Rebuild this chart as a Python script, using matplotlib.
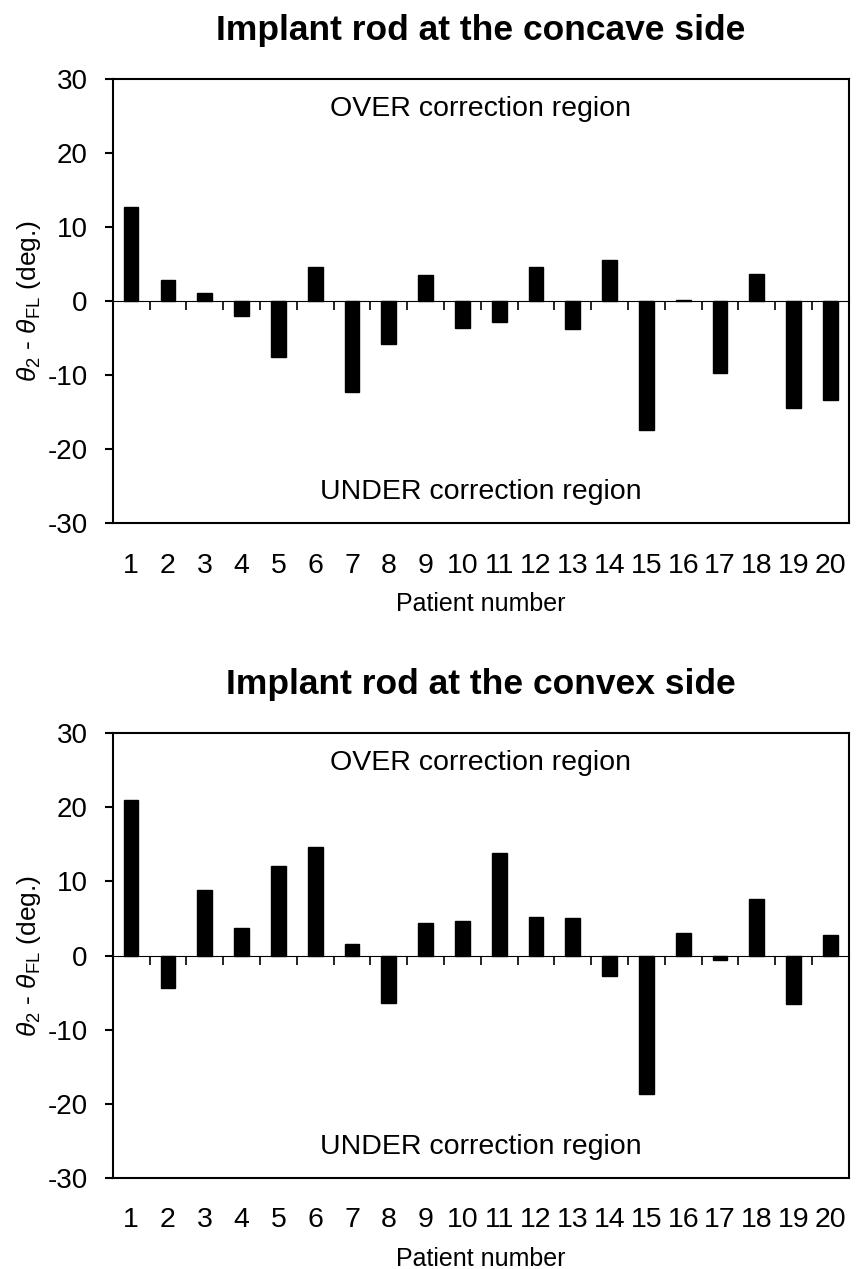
import matplotlib
matplotlib.use("Agg")
import matplotlib.pyplot as plt
import numpy as np

patients = list(range(1, 21))
concave = [12.7, 2.8, 1.1, -2.0, -7.5, 4.6, -12.2, -5.8, 3.5, -3.6,
           -2.8, 4.6, -3.7, 5.6, -17.4, 0.1, -9.7, 3.7, -14.4, -13.3]
convex = [21.0, -4.4, 8.85, 3.75, 12.05, 14.6, 1.5, -6.4, 4.4, 4.7,
          13.8, 5.2, 5.1, -2.7, -18.7, 3.1, -0.6, 7.7, -6.5, 2.8]
titles = ["Implant rod at the concave side", "Implant rod at the convex side"]
yticks = [-30, -20, -10, 0, 10, 20, 30]

plt.rcParams['font.family'] = ['Liberation Sans', 'DejaVu Sans']
plt.rcParams['mathtext.fontset'] = 'custom'
plt.rcParams['mathtext.rm'] = 'Liberation Sans'
plt.rcParams['mathtext.it'] = 'Liberation Sans:italic'
plt.rcParams['axes.unicode_minus'] = False

fig = plt.figure(figsize=(8.57, 12.69), dpi=100)
rects = [[0.1315, 0.5876, 0.859, 0.3501], [0.1315, 0.0719, 0.859, 0.3502]]

for rect, data, title in zip(rects, [concave, convex], titles):
    ax = fig.add_axes(rect)
    ax.bar(patients, data, width=0.4, color='black', edgecolor='black', zorder=3)
    ax.set_xlim(0.5, 20.5)
    ax.set_ylim(-30, 30)
    ax.set_yticks(yticks)
    ax.set_xticks(patients)
    ax.set_xticklabels([str(p) for p in patients])
    for s in ax.spines.values():
        s.set_linewidth(1.5)
    ax.tick_params(axis='x', length=0, pad=21, labelsize=20.5)
    ax.tick_params(axis='y', direction='out', length=6, width=1.5, pad=12, labelsize=20)
    # zero line with category separators
    sec = ax.secondary_xaxis(0.5)
    sec.set_xticks(np.arange(1.5, 21, 1.0))
    sec.set_xticklabels([])
    sec.tick_params(axis='x', direction='in', length=6.5, width=1.2)
    sec.spines['bottom'].set_linewidth(1.5)
    ax.set_title(title, fontsize=25.5, fontweight='bold', pad=28)
    ax.set_xlabel("Patient number", fontsize=18, labelpad=10)
    ax.set_ylabel(r"$\theta_2$ - $\theta_{\rm FL}$ (deg.)", fontsize=19, labelpad=3)
    ax.text(10.5, 26, "OVER correction region", ha='center', va='center', fontsize=20.5)
    ax.text(10.5, -25.8, "UNDER correction region", ha='center', va='center', fontsize=20.5)

fig.savefig("out.png", dpi=100)
